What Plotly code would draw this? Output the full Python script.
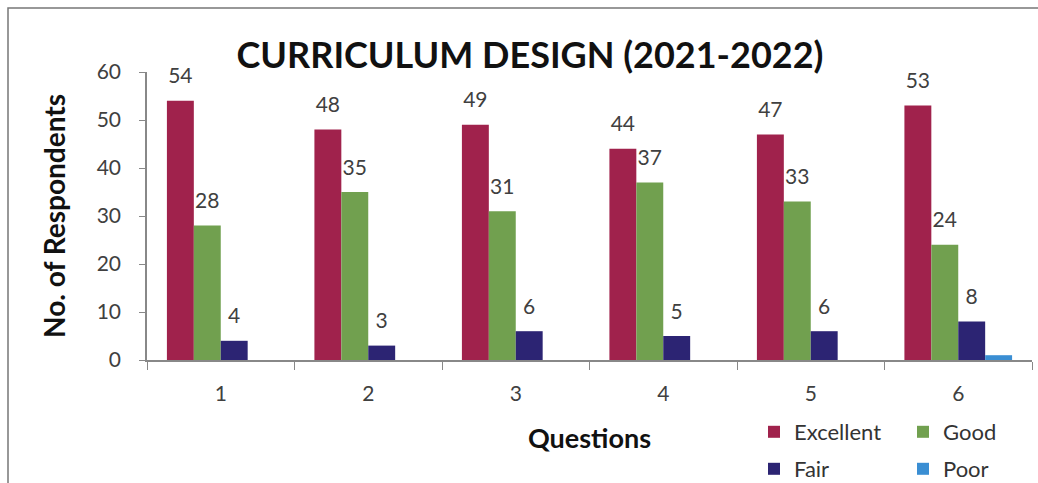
import plotly.graph_objects as go

questions = ["1", "2", "3", "4", "5", "6"]
excellent = [54, 48, 49, 44, 47, 53]
good = [28, 35, 31, 37, 33, 24]
fair = [4, 3, 6, 5, 6, 8]
poor = [0, 0, 0, 0, 0, 1]

series = [
    ("Excellent", excellent, "#A0224C", True, "legend"),
    ("Good", good, "#71A04F", True, "legend"),
    ("Fair", fair, "#2C2473", True, "legend2"),
    ("Poor", poor, "#3A8ED3", False, "legend2"),
]

FONT = "Lato, Carlito, 'Open Sans', sans-serif"
W, H = 1038, 483
L, R, T, B = 147, 6, 72, 123
PW, PH = W - L - R, H - T - B


def px_x(p):
    return (p - L) / PW


def px_y(p):
    return (H - B - p) / PH


fig = go.Figure()
for name, vals, color, show_lbl, lg in series:
    fig.add_trace(go.Bar(
        x=questions, y=vals, name=name, marker_color=color,
        marker_line_width=0, legend=lg, hoverinfo="x+y+name",
    ))

# value labels: grouped scatter traces aligned with the grouped bars
for name, vals, color, show_lbl, lg in series:
    fig.add_trace(go.Scatter(
        x=questions, y=vals, mode="markers+text",
        text=[str(v) for v in vals] if show_lbl else None,
        textposition="top center", cliponaxis=False,
        marker=dict(size=18, opacity=0),
        textfont=dict(family=FONT, size=21, color="#404040"),
        showlegend=False, hoverinfo="skip",
    ))

legend_common = dict(orientation="h", xanchor="left", yanchor="middle",
                     entrywidth=104, font=dict(family=FONT, size=22, color="#333333"),
                     bgcolor="rgba(0,0,0,0)", itemwidth=30)

fig.update_layout(
    width=W, height=H,
    margin=dict(l=L, r=R, t=T, b=B, autoexpand=False),
    paper_bgcolor="white", plot_bgcolor="white",
    barmode="group", bargap=0.27, bargroupgap=0,
    scattermode="group", scattergap=0.27,
    font=dict(family=FONT, color="#404040"),
    title=dict(text="<b>CURRICULUM DESIGN (2021-2022)</b>", x=530 / W, xanchor="center",
               y=1 - 55 / H, yanchor="middle",
               font=dict(family=FONT, size=36, color="#111111")),
    xaxis=dict(
        type="category", tickson="boundaries", ticks="outside", ticklen=8,
        tickcolor="#888888", showline=True, linecolor="#888888", linewidth=1.5,
        showgrid=False, ticklabelstandoff=14,
        tickfont=dict(family=FONT, size=21, color="#404040"),
        automargin=False,
        title=dict(text="<b>Questions</b>", standoff=25,
                   font=dict(family=FONT, size=27, color="#111111")),
    ),
    yaxis=dict(
        range=[0, 60], dtick=10, ticks="outside", ticklen=6, tickcolor="#888888",
        showline=True, linecolor="#888888", linewidth=1.5, showgrid=False,
        zeroline=False, ticklabelstandoff=14, automargin=False,
        tickfont=dict(family=FONT, size=21, color="#404040"),
        title=dict(text="<b>No. of Respondents</b>", standoff=23,
                   font=dict(family=FONT, size=28, color="#111111")),
    ),
    legend=dict(legend_common, x=px_x(754), y=px_y(432)),
    legend2=dict(legend_common, x=px_x(754), y=px_y(469)),
    shapes=[dict(type="rect", xref="paper", yref="paper",
                 x0=px_x(8), x1=px_x(1045),
                 y0=px_y(495), y1=px_y(8),
                 line=dict(color="#777777", width=1.5), layer="below")],
)

fig.write_html("out.html", config={"displayModeBar": False},
               post_script="document.body.style.margin='0';document.body.style.overflow='hidden';")
